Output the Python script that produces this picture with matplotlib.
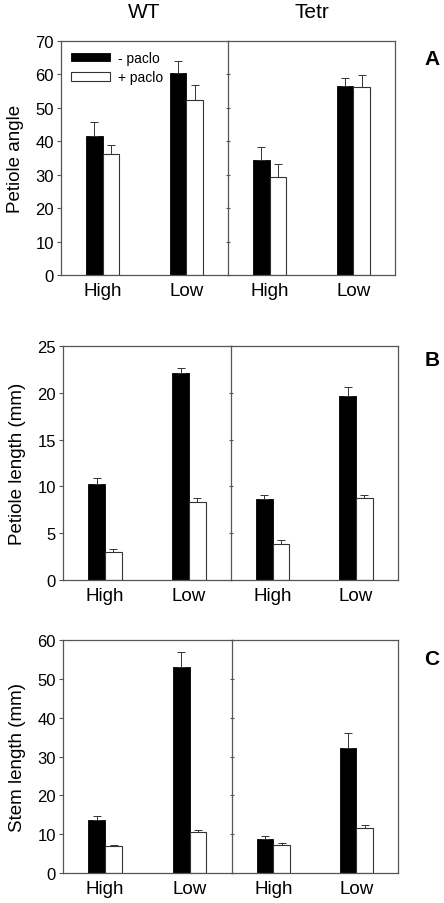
import matplotlib.pyplot as plt
import numpy as np

plt.rcParams["font.family"] = ["Liberation Sans", "DejaVu Sans"]

groups = ["WT", "Tetr"]
light = ["High", "Low"]
series = ["- paclo", "+ paclo"]

# panel A: petiole angle, [group][light]
angle_minus = [[41.6, 60.5], [34.5, 56.6]]
angle_minus_err = [[4.3, 3.5], [3.9, 2.4]]
angle_plus = [[36.2, 52.5], [29.3, 56.2]]
angle_plus_err = [[2.6, 4.3], [4.0, 3.6]]

# panel B: petiole length (mm)
petiole_minus = [[10.3, 22.1], [8.6, 19.7]]
petiole_minus_err = [[0.6, 0.55], [0.47, 0.9]]
petiole_plus = [[3.0, 8.3], [3.85, 8.8]]
petiole_plus_err = [[0.3, 0.5], [0.4, 0.3]]

# panel C: stem length (mm)
stem_minus = [[13.7, 53.1], [8.8, 32.3]]
stem_minus_err = [[1.1, 3.7], [0.6, 3.7]]
stem_plus = [[6.9, 10.6], [7.3, 11.6]]
stem_plus_err = [[0.26, 0.4], [0.4, 0.85]]

SPINE = "#555555"
BAR_W = 0.2


def draw_row(fig, rect, ylim, yticks, ylabel, letter, letter_y, minus, minus_err, plus, plus_err,
             legend=False, titles=False):
    left, bottom, mid, right, top = rect
    axes = [
        fig.add_axes([left, bottom, mid - left, top - bottom]),
        fig.add_axes([mid, bottom, right - mid, top - bottom]),
    ]
    x = np.arange(len(light))
    for i, ax in enumerate(axes):
        ax.bar(x - BAR_W / 2, minus[i], BAR_W, color="black", edgecolor="black",
               linewidth=0.6, label=series[0], zorder=2)
        ax.bar(x + BAR_W / 2, plus[i], BAR_W, color="white", edgecolor="#333333",
               linewidth=0.8, label=series[1], zorder=2)
        ax.errorbar(x - BAR_W / 2, minus[i], yerr=[np.zeros(2), minus_err[i]], fmt="none",
                    ecolor="#333333", elinewidth=0.7, capsize=3, capthick=0.7, zorder=3)
        ax.errorbar(x + BAR_W / 2, plus[i], yerr=[np.zeros(2), plus_err[i]], fmt="none",
                    ecolor="#333333", elinewidth=0.7, capsize=3, capthick=0.7, zorder=3)
        ax.set_xlim(-0.5, 1.5)
        ax.set_ylim(*ylim)
        ax.set_xticks(x)
        ax.set_xticklabels(light, fontsize=13.5)
        ax.tick_params(axis="x", length=0, pad=5)
        ax.set_yticks(yticks)
        for s in ax.spines.values():
            s.set_color(SPINE)
            s.set_linewidth(0.9)
        if titles:
            ax.set_title(groups[i], fontsize=15, pad=17)
    axes[0].tick_params(axis="y", direction="out", length=3, labelsize=12, color=SPINE, pad=2)
    axes[0].spines["right"].set_visible(False)
    axes[0].set_ylabel(ylabel, fontsize=13.5, labelpad=8)
    axes[1].tick_params(axis="y", direction="inout", length=3, labelleft=False, color=SPINE)
    if legend:
        axes[0].legend(loc="upper left", frameon=False, fontsize=10, handlelength=2.8,
                       handleheight=0.55, borderaxespad=0.3, labelspacing=0.4, handletextpad=0.6)
    fig.text(0.973, letter_y, letter, fontsize=15, fontweight="bold", ha="center", va="center")
    return axes


fig = plt.figure(figsize=(4.44, 9.04), dpi=100)

draw_row(fig, [0.1374, 0.6947, 0.5135, 0.8896, 0.9535], (0, 70), range(0, 71, 10),
         "Petiole angle", "A", 0.934, angle_minus, angle_minus_err, angle_plus, angle_plus_err,
         legend=True, titles=True)
draw_row(fig, [0.142, 0.3573, 0.520, 0.896, 0.6162], (0, 25), range(0, 26, 5),
         "Petiole length (mm)", "B", 0.601, petiole_minus, petiole_minus_err, petiole_plus, petiole_plus_err)
draw_row(fig, [0.142, 0.0332, 0.522, 0.896, 0.2909], (0, 60), range(0, 61, 10),
         "Stem length (mm)", "C", 0.271, stem_minus, stem_minus_err, stem_plus, stem_plus_err)

fig.savefig("out.png", dpi=100)
